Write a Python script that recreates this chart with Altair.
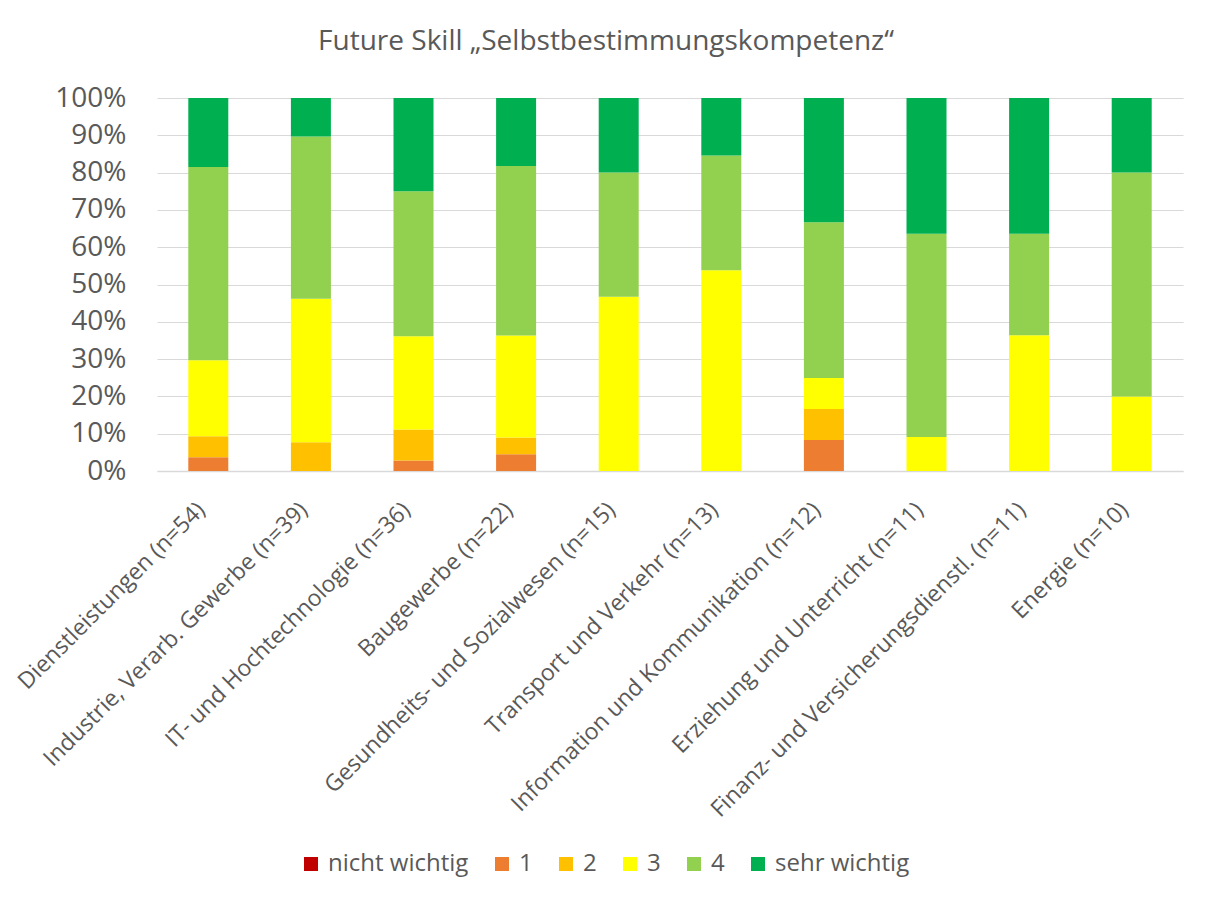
import altair as alt
import pandas as pd

categories = [
    "Dienstleistungen (n=54)",
    "Industrie, Verarb. Gewerbe (n=39)",
    "IT- und Hochtechnologie (n=36)",
    "Baugewerbe (n=22)",
    "Gesundheits- und Sozialwesen (n=15)",
    "Transport und Verkehr (n=13)",
    "Information und Kommunikation (n=12)",
    "Erziehung und Unterricht (n=11)",
    "Finanz- und Versicherungsdienstl. (n=11)",
    "Energie (n=10)",
]
levels = ["nicht wichtig", "1", "2", "3", "4", "sehr wichtig"]
colors = ["#C00000", "#ED7D31", "#FFC000", "#FFFF00", "#92D050", "#00B050"]

v_nicht = [0, 0, 0, 0, 0, 0, 0, 0, 0, 0]
v_1 = [3.7, 0, 2.8, 4.5, 0, 0, 8.3, 0, 0, 0]
v_2 = [5.6, 7.7, 8.3, 4.5, 0, 0, 8.3, 0, 0, 0]
v_3 = [20.4, 38.5, 25.0, 27.3, 46.7, 53.8, 8.3, 9.1, 36.4, 20.0]
v_4 = [51.9, 43.6, 38.9, 45.5, 33.3, 30.8, 41.7, 54.5, 27.3, 60.0]
v_sehr = [18.5, 10.3, 25.0, 18.2, 20.0, 15.4, 33.3, 36.4, 36.4, 20.0]
series = [v_nicht, v_1, v_2, v_3, v_4, v_sehr]

rows = []
for li, (lvl, vals) in enumerate(zip(levels, series)):
    for c, v in zip(categories, vals):
        rows.append({"Branche": c, "Stufe": lvl, "Anteil": v, "ord": li})
df = pd.DataFrame(rows)

FONT = "Open Sans"
TXT = "#595959"
GRID = "#D9D9D9"

chart = alt.Chart(df).mark_bar(size=40).encode(
    x=alt.X(
        "Branche:N",
        sort=categories,
        scale=alt.Scale(paddingInner=0, paddingOuter=0),
        axis=alt.Axis(
            title=None, labelAngle=-45, labelAlign="right", labelBaseline="middle",
            labelPadding=35, labelFontSize=23, labelColor=TXT, labelFont=FONT,
            ticks=False, domainColor=GRID, domainWidth=1.5, grid=False, labelLimit=600,
            labelOffset=-7,
        ),
    ),
    y=alt.Y(
        "Anteil:Q",
        stack="normalize",
        scale=alt.Scale(domain=[0, 1]),
        axis=alt.Axis(
            title=None, format=".0%", values=[i / 10 for i in range(11)],
            labelFontSize=28, labelColor=TXT, labelFont=FONT, labelPadding=31,
            ticks=False, domain=False, gridColor=GRID, gridWidth=1.2,
        ),
    ),
    color=alt.Color(
        "Stufe:N",
        sort=levels,
        scale=alt.Scale(domain=levels, range=colors),
        legend=alt.Legend(
            title=None, orient="none", direction="horizontal", legendX=142, legendY=754,
            symbolType="square", symbolSize=196, symbolStrokeWidth=0,
            labelFontSize=24, labelColor=TXT, labelFont=FONT, labelOffset=5,
            columnPadding=21,
        ),
    ),
    order=alt.Order("ord:Q", sort="ascending"),
).properties(
    width=1026,
    height=373,
    title=alt.Title(
        "Future Skill „Selbstbestimmungskompetenz“",
        fontSize=28, font=FONT, color=TXT, fontWeight="normal",
        anchor="middle", dx=-64, offset=28,
    ),
    autosize=alt.AutoSizeParams(type="none"),
    padding={"left": 149, "top": 90, "right": 22, "bottom": 430},
).configure_view(stroke=None)

chart.save("out.html", embed_options={"renderer": "svg", "actions": False})
